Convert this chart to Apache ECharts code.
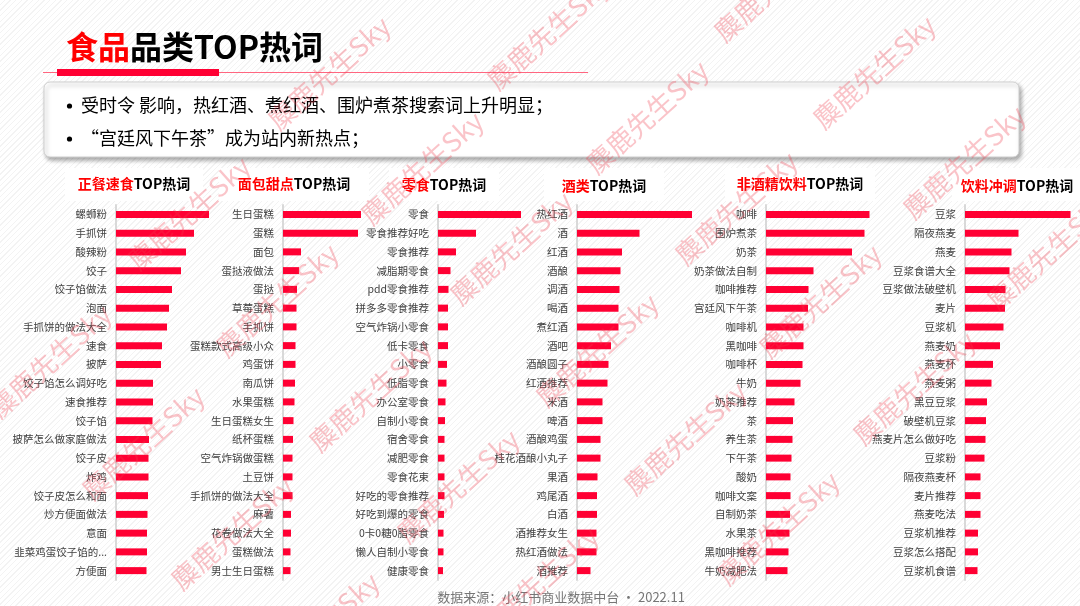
<!DOCTYPE html>
<html><head><meta charset="utf-8">
<script src="https://cdn.jsdelivr.net/npm/echarts@6/dist/echarts.min.js"></script>
<style>
html,body{margin:0;padding:0;}
body{background:repeating-linear-gradient(135deg,#ffffff 0px,#ffffff 3px,#f3f3f3 3px,#f3f3f3 4px);}
#c{width:1080px;height:606px;}
</style></head><body><div id="c"></div>
<script>
// ---------- data ----------
const panelTitles = ['正餐速食', '面包甜点', '零食', '酒类', '非酒精饮料', '饮料冲调'];
const titleSuffix = 'TOP热词';

const cat1 = ['螺蛳粉','手抓饼','酸辣粉','饺子','饺子馅做法','泡面','手抓饼的做法大全','速食','披萨','饺子馅怎么调好吃','速食推荐','饺子馅','披萨怎么做家庭做法','饺子皮','炸鸡','饺子皮怎么和面','炒方便面做法','意面','韭菜鸡蛋饺子馅的...','方便面'];
const val1 = [93,78,70,65,56,53,51,46,45,37,37,36.5,33,32.5,32.5,32,31.5,31,31,30.5];

const cat2 = ['生日蛋糕','蛋糕','面包','蛋挞液做法','蛋挞','草莓蛋糕','手抓饼','蛋糕款式高级小众','鸡蛋饼','南瓜饼','水果蛋糕','生日蛋糕女生','纸杯蛋糕','空气炸锅做蛋糕','土豆饼','手抓饼的做法大全','麻薯','花卷做法大全','蛋糕做法','男士生日蛋糕'];
const val2 = [78,75,18,16,14,13.5,13.5,12.5,12.5,12,11.5,10.5,10,9.5,9.5,9.5,8,8,7.5,7.5];

const cat3 = ['零食','零食推荐好吃','零食推荐','减脂期零食','pdd零食推荐','拼多多零食推荐','空气炸锅小零食','低卡零食','小零食','低脂零食','办公室零食','自制小零食','宿舍零食','减肥零食','零食花束','好吃的零食推荐','好吃到爆的零食','0卡0糖0脂零食','懒人自制小零食','健康零食'];
const val3 = [83,38,18,12.5,10.5,10,10,10,9,8.5,7.5,7,6.5,6.5,6.5,6.5,6,5.5,5.5,5];

const cat4 = ['热红酒','酒','红酒','酒酿','调酒','喝酒','煮红酒','酒吧','酒酿圆子','红酒推荐','米酒','啤酒','酒酿鸡蛋','桂花酒酿小丸子','果酒','鸡尾酒','白酒','酒推荐女生','热红酒做法','酒推荐'];
const val4 = [115,62.5,45,43.5,42.5,41.5,41.5,34,31.5,30.5,25.5,25.5,23.5,23.5,20.5,20,20,19.5,19.5,13.5];

const cat5 = ['咖啡','围炉煮茶','奶茶','奶茶做法自制','咖啡推荐','宫廷风下午茶','咖啡机','黑咖啡','咖啡杯','牛奶','奶茶推荐','茶','养生茶','下午茶','酸奶','咖啡文案','自制奶茶','水果茶','黑咖啡推荐','牛奶减肥法'];
const val5 = [103.5,98.5,86,47.5,42.5,42,37.5,37.5,36.5,34.5,28.5,27,26.5,25.5,24.5,24.5,24,23.5,22.5,21.5];

const cat6 = ['豆浆','隔夜燕麦','燕麦','豆浆食谱大全','豆浆做法破壁机','麦片','豆浆机','燕麦奶','燕麦杯','燕麦粥','黑豆豆浆','破壁机豆浆','燕麦片怎么做好吃','豆浆粉','隔夜燕麦杯','麦片推荐','燕麦吃法','豆浆机推荐','豆浆怎么搭配','豆浆机食谱'];
const val6 = [105.5,53.5,46.5,44.5,40.5,40,38.5,35,28,26.5,22,21,20.5,19.5,15.5,15.5,15.5,13,13,12.5];

const mainTitleRed = '食品';
const mainTitleBlack = '品类TOP热词';
const bullet1 = '受时令 影响，热红酒、煮红酒、围炉煮茶搜索词上升明显；';
const bullet2 = '“宫廷风下午茶”成为站内新热点；';
const footer = '数据来源：小红书商业数据中台 · 2022.11';
const watermarkText = '麋鹿先生Sky';

// ---------- layout ----------
const cats = [cat1,cat2,cat3,cat4,cat5,cat6];
const vals = [val1,val2,val3,val4,val5,val6];
const gridLeft = [116,283,438,577,766,965];
const gridWidth = [100,90,90,120,110,110];
const titleCx = [134,294,444,604,800,1017];
const titleCy = [184,184,185,186,184,186];
const titleBoxW = [138,150,110,120,150,130];

const RED = '#ff0033';
const FONT = '"Noto Sans CJK SC","Noto Sans",sans-serif';

const grid = [], xAxis = [], yAxis = [], series = [];
for (let i = 0; i < 6; i++) {
  grid.push({left: gridLeft[i], top: 205, width: gridWidth[i], height: 375, containLabel: false});
  xAxis.push({type: 'value', gridIndex: i, min: 0, max: gridWidth[i], show: false});
  yAxis.push({
    type: 'category', gridIndex: i, inverse: true, data: cats[i],
    axisLine: {show: true, lineStyle: {color: '#d9d9d9', width: 2}},
    axisTick: {show: false},
    axisLabel: {color: '#404040', fontSize: 10.5, fontFamily: FONT, margin: 9, interval: 0}
  });
  series.push({
    type: 'bar', xAxisIndex: i, yAxisIndex: i, data: vals[i],
    barWidth: 7, itemStyle: {color: RED}, silent: true, animation: false
  });
}

const graphic = [];
// main title
graphic.push({type: 'text', x: 66, y: 47, z: 1, style: {
  text: '{r|' + mainTitleRed + '}{b|' + mainTitleBlack + '}', verticalAlign: 'middle', align: 'left',
  rich: {r: {fill: '#ff0000', fontSize: 32, fontWeight: 'bold', fontFamily: FONT},
         b: {fill: '#000000', fontSize: 32, fontWeight: 'bold', fontFamily: FONT}}
}});
graphic.push({type: 'line', z: 1, shape: {x1: 43, y1: 72.5, x2: 588, y2: 72.5}, style: {stroke: '#ff6680', lineWidth: 1}});
graphic.push({type: 'rect', z: 1, shape: {x: 57, y: 69, width: 162, height: 7}, style: {fill: '#ff0033'}});
// bullet box
graphic.push({type: 'rect', z: 1, shape: {x: 44, y: 82, width: 975, height: 75, r: 6},
  style: {fill: '#ffffff', stroke: '#cfcfcf', lineWidth: 1, shadowBlur: 4, shadowOffsetX: 2, shadowOffsetY: 3, shadowColor: 'rgba(0,0,0,0.35)'}});
[[bullet1,105],[bullet2,138]].forEach(function (b) {
  graphic.push({type: 'circle', z: 2, shape: {cx: 69.5, cy: b[1] + 1, r: 2.6}, style: {fill: '#000'}});
  graphic.push({type: 'text', x: 81, y: b[1], z: 2, style: {text: b[0], fontSize: 18, fill: '#000', fontFamily: FONT, verticalAlign: 'middle'}});
});
// panel titles
for (let i = 0; i < 6; i++) {
  graphic.push({type: 'rect', z: 1, shape: {x: titleCx[i] - titleBoxW[i] / 2, y: 168, width: titleBoxW[i], height: 33}, style: {fill: '#ffffff'}});
  graphic.push({type: 'text', x: titleCx[i], y: titleCy[i], z: 2, style: {
    text: '{r|' + panelTitles[i] + '}{b|' + titleSuffix + '}', align: 'center', verticalAlign: 'middle',
    rich: {r: {fill: '#ff0000', fontSize: 14, fontWeight: 'bold', fontFamily: FONT},
           b: {fill: '#000000', fontSize: 14, fontWeight: 'bold', fontFamily: FONT}}
  }});
}
// footer
graphic.push({type: 'text', x: 561, y: 597, z: 2, style: {text: footer, fontSize: 13, fill: '#767676', fontFamily: FONT, align: 'center', verticalAlign: 'middle'}});
// watermarks
const wm = [[329,73],[422,168],[189,213],[277,300],[511,248],[548,33],[647,117],[874,72],[736,208],[964,162],[775,-15],[1048,253],[820,301],
            [50,361],[143,443],[232,533],[370,395],[458,486],[318,629],[685,438],[778,528],[914,388],[597,350],[537,583]];
wm.forEach(function (p) {
  graphic.push({type: 'text', x: p[0], y: p[1], rotation: 42 * Math.PI / 180, z: 100, silent: true, style: {
    text: watermarkText, fontSize: 27, fill: 'rgba(240,60,75,0.3)', fontFamily: FONT, align: 'center', verticalAlign: 'middle'}});
});

const chart = echarts.init(document.getElementById('c'), null, {renderer: 'canvas'});
chart.setOption({backgroundColor: 'transparent', animation: false, grid, xAxis, yAxis, series, graphic});
</script></body></html>
